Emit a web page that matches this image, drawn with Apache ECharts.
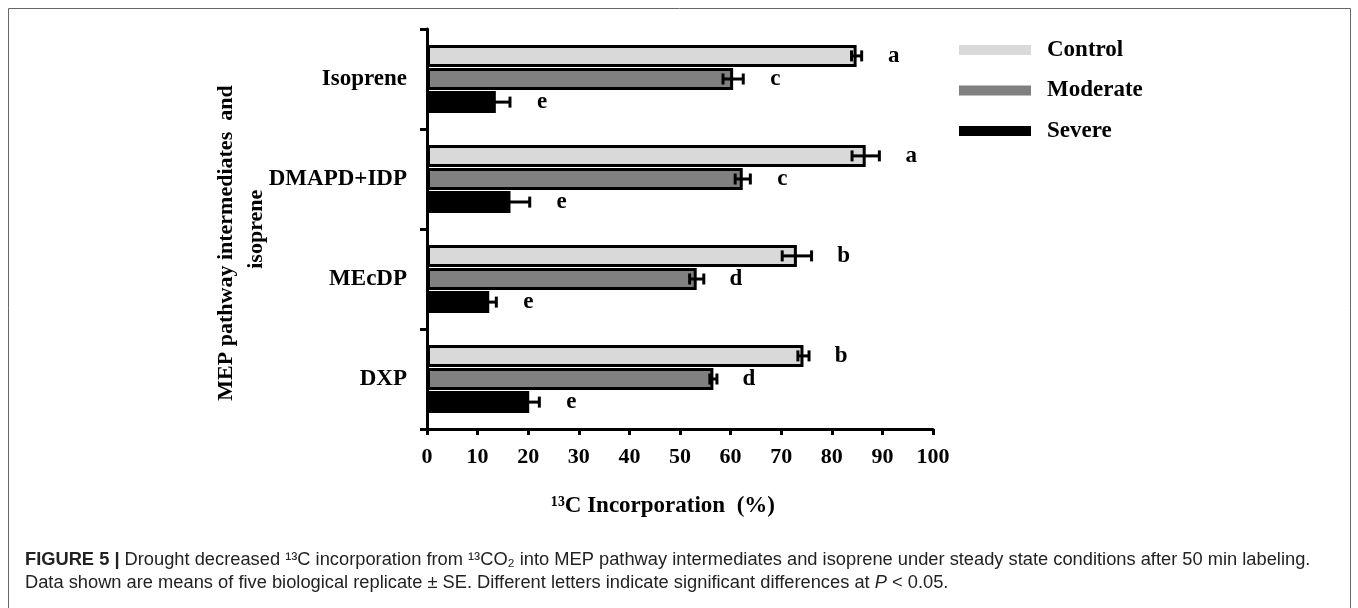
<!DOCTYPE html>
<html>
<head>
<meta charset="utf-8">
<script src="https://cdn.jsdelivr.net/npm/echarts@6/dist/echarts.min.js"></script>
<style>
  html, body { margin: 0; padding: 0; background: #fff; }
  #chart { width: 1358px; height: 608px; }
</style>
</head>
<body>
<div id="chart"></div>
<script>
// data
var categories = ['Isoprene', 'DMAPD+IDP', 'MEcDP', 'DXP'];
var seriesNames = ['Control', 'Moderate', 'Severe'];
var control = [84.9, 86.7, 73.1, 74.4];
var moderate = [60.5, 62.4, 53.3, 56.6];
var severe = [13.6, 16.5, 12.3, 20.2];
var controlErr = [1.0, 2.7, 2.9, 1.1];
var moderateErr = [2.0, 1.5, 1.4, 0.7];
var severeErr = [2.8, 3.8, 1.4, 2.0];
var controlLetters = ['a', 'a', 'b', 'b'];
var moderateLetters = ['c', 'c', 'd', 'd'];
var severeLetters = ['e', 'e', 'e', 'e'];
var xTicks = [0, 10, 20, 30, 40, 50, 60, 70, 80, 90, 100];

var SERIF = '"Liberation Serif", "Times New Roman", serif';
var SANS = '"Liberation Sans", Arial, sans-serif';
var BAR_W = 22, BAR_GAP = 0.05;
var colors = ['#d9d9d9', '#808080', '#000000'];

var values = [control, moderate, severe];
var errs = [controlErr, moderateErr, severeErr];
var letters = [controlLetters, moderateLetters, severeLetters];

// rows for the error bar / letter layer: [category, seriesIndex, mean, se, letter]
var errRows = [];
for (var s = 0; s < 3; s++) {
    for (var c = 0; c < categories.length; c++) {
        errRows.push([c, s, values[s][c], errs[s][c], letters[s][c]]);
    }
}

var chart = echarts.init(document.getElementById('chart'));

var barSeries = seriesNames.map(function (name, i) {
    return {
        name: name,
        type: 'bar',
        data: values[i],
        barWidth: BAR_W,
        barGap: (BAR_GAP * 100) + '%',
        itemStyle: {
            color: colors[i],
            borderColor: '#000',
            borderWidth: 3
        },
        emphasis: { disabled: true },
        z: 2
    };
});

var option = {
    animation: false,
    backgroundColor: '#fff',
    grid: {
        left: 427,
        top: 29,
        width: 506,
        height: 400
    },
    legend: {
        data: seriesNames,
        orient: 'vertical',
        left: 959,
        top: 38,
        padding: 0,
        itemWidth: 72,
        itemHeight: 10,
        itemGap: 16.5,
        icon: 'rect',
        itemStyle: { borderWidth: 0 },
        textStyle: {
            fontFamily: SERIF,
            fontWeight: 'bold',
            fontSize: 23,
            color: '#000',
            lineHeight: 24,
            padding: [0, 0, 0, 11]
        },
        selectedMode: false
    },
    xAxis: {
        type: 'value',
        min: xTicks[0],
        max: xTicks[xTicks.length - 1],
        interval: xTicks[1] - xTicks[0],
        name: '¹³C Incorporation  (%)',
        nameLocation: 'middle',
        nameGap: 66,
        nameTextStyle: {
            fontFamily: SERIF,
            fontWeight: 'bold',
            fontSize: 23,
            color: '#000',
            padding: [0, 34, 0, 0]
        },
        axisLine: { show: true, lineStyle: { color: '#000', width: 3 } },
        axisTick: { show: true, length: 6, lineStyle: { color: '#000', width: 3 } },
        axisLabel: {
            fontFamily: SERIF,
            fontWeight: 'bold',
            fontSize: 22,
            color: '#000',
            margin: 17
        },
        splitLine: { show: false }
    },
    yAxis: {
        type: 'category',
        inverse: true,
        data: categories,
        name: 'MEP pathway intermediates  and\n     isoprene',
        nameLocation: 'middle',
        nameRotate: 90,
        nameGap: 156,
        nameMoveOverlap: false,
        nameTextStyle: {
            fontFamily: SERIF,
            fontWeight: 'bold',
            fontSize: 22,
            color: '#000',
            lineHeight: 30,
            align: 'center',
            padding: [0, 28, 0, 0]
        },
        axisLine: { show: true, lineStyle: { color: '#000', width: 3 } },
        axisTick: { show: true, length: 7, lineStyle: { color: '#000', width: 3 } },
        axisLabel: {
            fontFamily: SERIF,
            fontWeight: 'bold',
            fontSize: 23,
            color: '#000',
            margin: 20
        }
    },
    series: barSeries.concat([{
        name: 'errors',
        type: 'custom',
        data: errRows,
        encode: { x: 2, y: 0 },
        z: 5,
        silent: true,
        renderItem: function (params, api) {
            var cat = api.value(0), s = api.value(1), v = api.value(2), e = api.value(3);
            var letter = errRows[params.dataIndex][4];
            var y = api.coord([0, cat])[1] + (s - 1) * BAR_W * (1 + BAR_GAP);
            var x1 = api.coord([v - e, cat])[0];
            var x2 = api.coord([v + e, cat])[0];
            var cap = 5.5;
            var st = { stroke: '#000', lineWidth: 3 };
            return {
                type: 'group',
                children: [
                    { type: 'line', shape: { x1: x1, y1: y, x2: x2, y2: y }, style: st },
                    { type: 'line', shape: { x1: x1, y1: y - cap, x2: x1, y2: y + cap }, style: st },
                    { type: 'line', shape: { x1: x2, y1: y - cap, x2: x2, y2: y + cap }, style: st },
                    {
                        type: 'text',
                        style: {
                            x: x2 + 32, y: y,
                            text: letter,
                            fill: '#000',
                            font: 'bold 23px ' + SERIF,
                            align: 'center',
                            verticalAlign: 'middle'
                        }
                    }
                ]
            };
        }
    }]),
    graphic: [
        {
            type: 'rect',
            shape: { x: 8.5, y: 8.5, width: 1342, height: 640 },
            style: { fill: 'none', stroke: '#666', lineWidth: 1 },
            silent: true
        },
        {
            type: 'text',
            left: 25,
            top: 551,
            style: {
                text: '{b|FIGURE 5 |} Drought decreased ¹³C incorporation from ¹³CO₂ into MEP pathway intermediates and isoprene under steady state conditions after 50 min labeling.',
                font: '18.3px ' + SANS,
                fill: '#222',
                rich: {
                    b: { fontFamily: SANS, fontWeight: 'bold', fontSize: 18.3, fill: '#222' }
                }
            }
        },
        {
            type: 'text',
            left: 25,
            top: 574,
            style: {
                text: 'Data shown are means of five biological replicate ± SE. Different letters indicate significant differences at {i|P} < 0.05.',
                font: '18.3px ' + SANS,
                fill: '#222',
                rich: {
                    i: { fontFamily: SANS, fontStyle: 'italic', fontSize: 18.3, fill: '#222' }
                }
            }
        }
    ]
};

chart.setOption(option);
</script>
</body>
</html>
